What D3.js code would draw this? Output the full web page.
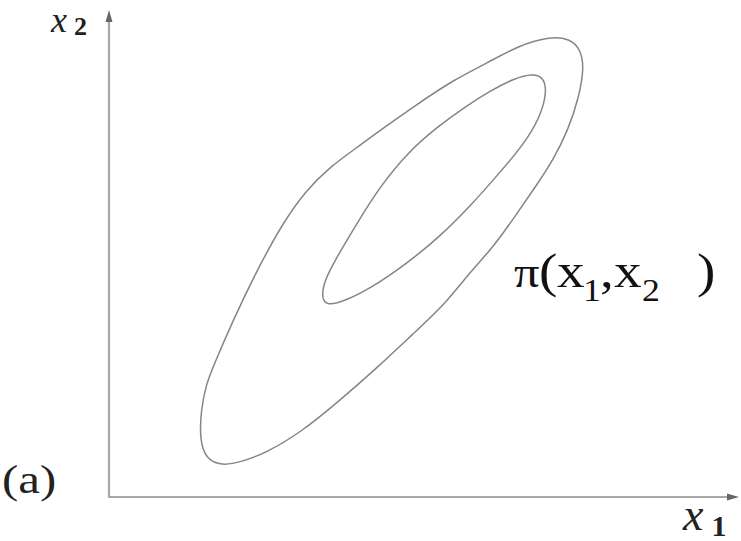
<!DOCTYPE html>
<html><head><meta charset="utf-8">
<script src="https://cdn.jsdelivr.net/npm/d3@7"></script>
<style>
html,body{margin:0;padding:0;background:#fff;}
svg{display:block;}
text{font-family:"Liberation Serif","Times New Roman",Times,"DejaVu Serif",serif;}
</style>
</head><body>
<svg id="c" width="741" height="541"></svg>
<script>
// Contour levels of the density pi(x1, x2), in axis units (0..10)
const outerX = [6.52,6.97,7.32,7.49,7.54,7.46,7.29,7.05,6.79,6.46,6.10,5.73,5.35,4.81,4.27,3.67,3.03,2.48,2.10,1.79,1.54,1.44,1.46,1.54,1.65,1.97,2.35,2.76,3.13,3.51,3.95,4.38,4.83,5.46,6.00];
const outerY = [9.28,9.45,9.42,9.18,8.81,8.21,7.54,6.92,6.41,5.79,5.13,4.62,3.98,3.33,2.67,1.99,1.31,0.90,0.72,0.64,0.78,1.17,1.79,2.30,2.67,3.63,4.66,5.63,6.30,6.78,7.19,7.60,8.01,8.56,8.91];
const innerX = [6.44,6.73,6.89,6.95,6.87,6.65,6.40,6.10,5.78,5.25,4.73,4.19,3.67,3.44,3.37,3.43,3.56,3.94,4.30,4.73,5.21,5.65,6.05];
const innerY = [8.60,8.69,8.62,8.36,7.89,7.37,6.96,6.51,6.04,5.34,4.80,4.31,3.98,3.94,4.13,4.46,4.80,5.63,6.37,7.06,7.60,8.01,8.34];
const axisLabels = ["x", "1", "x", "2"];
const panelLabel = "(a)";
const curveLabel = ["π", "(", "x", "1", ",", "x", "2", ")"];

const svg = d3.select("#c");
const x = d3.scaleLinear().domain([0, 10]).range([109, 739]);
const y = d3.scaleLinear().domain([0, 10]).range([497, 10]);

// axes
const axCol = "#a8a8a8";
svg.append("line").attr("x1", x(0)).attr("y1", y(0)).attr("x2", x(10) - 6).attr("y2", y(0))
  .attr("stroke", axCol).attr("stroke-width", 2.2);
svg.append("line").attr("x1", x(0)).attr("y1", y(0) + 1).attr("x2", x(0)).attr("y2", y(10) + 6)
  .attr("stroke", axCol).attr("stroke-width", 2.2);
svg.append("path").attr("d", `M${x(10)},${y(0)} L${x(10)-12},${y(0)-3.5} L${x(10)-12},${y(0)+3.5} Z`).attr("fill", "#666");
svg.append("path").attr("d", `M${x(0)},${y(10)} L${x(0)-3.5},${y(10)+12} L${x(0)+3.5},${y(10)+12} Z`).attr("fill", "#666");

// contours (smooth closed B-splines)
const line = d3.line().x(d => x(d[0])).y(d => y(d[1])).curve(d3.curveBasisClosed);
const outer = outerX.map((v, i) => [v, outerY[i]]);
const inner = innerX.map((v, i) => [v, innerY[i]]);
[outer, inner].forEach(pts => {
  svg.append("path").attr("d", line(pts)).attr("fill", "none")
    .attr("stroke", "#858585").attr("stroke-width", 1.5);
});

// axis labels
const t2 = svg.append("text").attr("x", 51).attr("y", 32).attr("fill", "#222");
t2.append("tspan").attr("font-style", "italic").attr("font-size", 36).text(axisLabels[2]);
t2.append("tspan").attr("font-size", 26).attr("font-weight", "bold").attr("dx", 7).attr("dy", 3).text(axisLabels[3]);

const t1 = svg.append("text").attr("x", 683).attr("y", 530).attr("fill", "#222");
t1.append("tspan").attr("font-style", "italic").attr("font-size", 46).text(axisLabels[0]);
t1.append("tspan").attr("font-size", 30).attr("font-weight", "bold").attr("dx", 8).attr("dy", 6).text(axisLabels[1]);

// panel label
svg.append("text").attr("transform", "translate(2,493) scale(1.22,1)").attr("font-size", 40)
  .attr("fill", "#222").text(panelLabel);

// density label
const s = 1.15;
const pieceOff = [0, 25, 43, 69, 86, 100, 128, 183];
const pieceSub = [false, false, false, true, false, false, true, false];
const tp = svg.append("text").attr("transform", `translate(514,287) scale(${s},1)`).attr("fill", "#111");
curveLabel.forEach((t, i) => {
  tp.append("tspan").attr("x", pieceOff[i] / s).attr("y", pieceSub[i] ? 14 : 0)
    .attr("font-size", pieceSub[i] ? 31 : (i === 0 ? 44 : 48)).text(t);
});
</script>
</body></html>
